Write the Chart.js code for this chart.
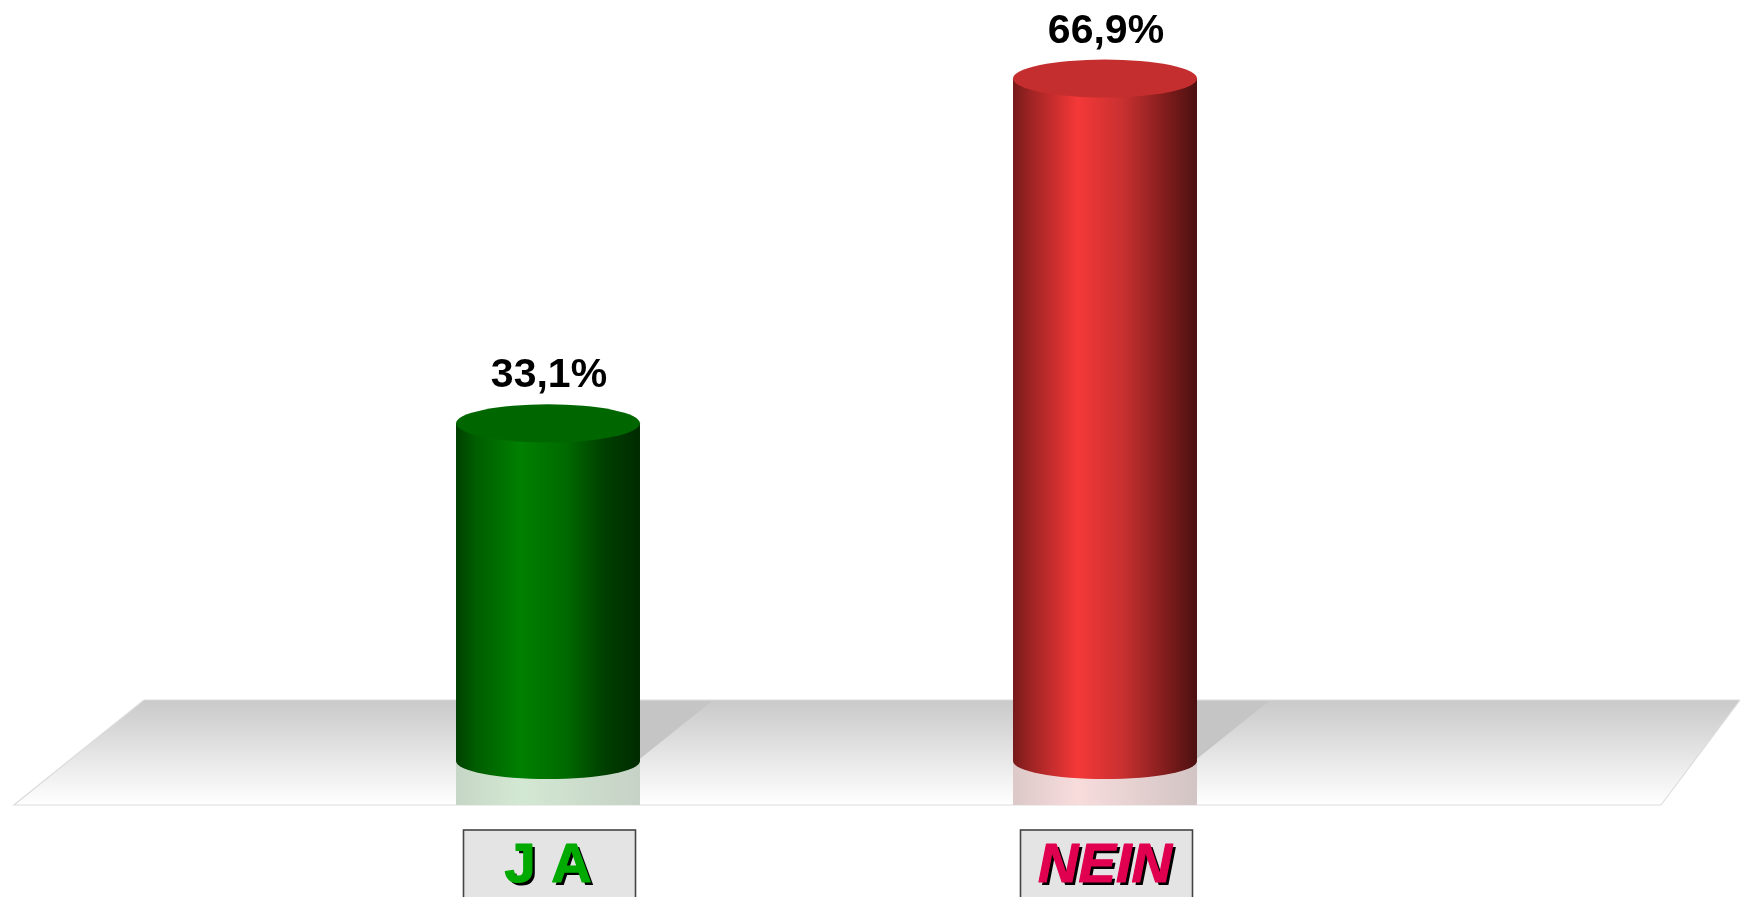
<!DOCTYPE html>
<html>
<head>
<meta charset="utf-8">
<style>html,body{margin:0;padding:0;background:#fff;overflow:hidden}canvas{display:block}</style>
<script src="https://cdn.jsdelivr.net/npm/chart.js@4"></script>
</head>
<body>
<canvas id="c" width="1740" height="897"></canvas>
<script>
const categories = ['J A', 'NEIN'];
const shares = [33.1, 66.9];

const sideStops = [
  [[0, '#003f00'], [0.1, '#005c00'], [0.35, '#008000'], [0.6, '#006a00'], [0.8, '#004000'], [1, '#002a00']],
  [[0, '#771a1a'], [0.1, '#a02424'], [0.35, '#f53838'], [0.6, '#c83030'], [0.8, '#8a1f1f'], [1, '#4c1010']]
];
const mirrorStops = [
  [[0, '#c6d6c6'], [0.35, '#d3e8d3'], [1, '#c6d2c6']],
  [[0, '#dcc8c8'], [0.35, '#f8dcdc'], [1, '#d2c4c4']]
];
const capColors = ['#006600', '#c42e2e'];
const labelColors = ['#00aa00', '#e0004f'];
const labelItalic = [false, true];

const FLOOR = {top: 700, bottom: 805, tl: 144, tr: 1740, bl: 14, br: 1661};

function hGrad(ctx, left, width, stops) {
  const g = ctx.createLinearGradient(left, 0, left + width, 0);
  stops.forEach(s => g.addColorStop(s[0], s[1]));
  return g;
}

const cylinders = {
  id: 'cylinders',
  beforeDatasetsDraw(chart) {
    const ctx = chart.ctx, f = FLOOR;
    ctx.save();
    const g = ctx.createLinearGradient(0, f.top, 0, f.bottom);
    g.addColorStop(0, '#c9c9c9');
    g.addColorStop(1, '#ffffff');
    ctx.beginPath();
    ctx.moveTo(f.tl, f.top); ctx.lineTo(f.tr, f.top); ctx.lineTo(f.br, f.bottom); ctx.lineTo(f.bl, f.bottom);
    ctx.closePath();
    ctx.fillStyle = g;
    ctx.fill();
    ctx.strokeStyle = '#dcdcdc';
    ctx.lineWidth = 1.2;
    ctx.stroke();
    const meta = chart.getDatasetMeta(0);
    meta.data.forEach((bar, i) => {
      const l = bar.x - bar.width / 2, r = bar.x + bar.width / 2;
      ctx.beginPath();
      ctx.moveTo(r - 4, bar.base + 1);
      ctx.lineTo(r + 72, f.top + 1);
      ctx.lineTo(r - 4, f.top + 1);
      ctx.closePath();
      ctx.fillStyle = '#c5c5c5';
      ctx.fill();
      ctx.fillStyle = hGrad(ctx, l, bar.width, mirrorStops[i]);
      ctx.fillRect(l, bar.base, bar.width, f.bottom - bar.base);
    });
    ctx.restore();
  },
  afterDatasetsDraw(chart) {
    const ctx = chart.ctx;
    const meta = chart.getDatasetMeta(0);
    ctx.save();
    meta.data.forEach((bar, i) => {
      const l = bar.x - bar.width / 2, rx = bar.width / 2;
      ctx.beginPath();
      ctx.ellipse(bar.x, bar.base, rx, 18, 0, 0, Math.PI);
      ctx.closePath();
      ctx.fillStyle = hGrad(ctx, l, bar.width, sideStops[i]);
      ctx.fill();
      ctx.beginPath();
      ctx.ellipse(bar.x, bar.y, rx, 19, 0, 0, Math.PI * 2);
      ctx.fillStyle = capColors[i];
      ctx.fill();

      ctx.font = 'bold 41px "Liberation Sans", Arial, sans-serif';
      ctx.textAlign = 'center';
      ctx.textBaseline = 'alphabetic';
      ctx.fillStyle = '#000000';
      ctx.fillText(shares[i].toFixed(1).replace('.', ',') + '%', bar.x + 1, bar.y - 36);

      const bx = bar.x - 84.5, bw = 172;
      ctx.fillStyle = '#e4e4e4';
      ctx.fillRect(bx, 830, bw, 80);
      ctx.strokeStyle = '#444444';
      ctx.lineWidth = 1.6;
      ctx.strokeRect(bx, 830, bw, 80);
      ctx.save();
      ctx.font = (labelItalic[i] ? 'italic ' : '') + 'bold 56px "Liberation Sans", Arial, sans-serif';
      ctx.shadowColor = '#000000';
      ctx.shadowOffsetX = 3;
      ctx.shadowOffsetY = 3;
      ctx.shadowBlur = 0;
      ctx.fillStyle = labelColors[i];
      ctx.fillText(categories[i], bar.x, 882);
      ctx.shadowColor = 'transparent';
      ctx.strokeStyle = labelColors[i];
      ctx.lineWidth = 1.2;
      ctx.lineJoin = 'round';
      ctx.strokeText(categories[i], bar.x, 882);
      ctx.restore();
    });
    ctx.restore();
  }
};

new Chart(document.getElementById('c'), {
  type: 'bar',
  data: {
    labels: categories,
    datasets: [{
      data: shares,
      borderWidth: 0,
      barPercentage: 0.3303,
      categoryPercentage: 1,
      backgroundColor(context) {
        const sc = context.chart.scales.x;
        if (!sc || context.dataIndex === undefined) return '#888888';
        const w = (sc.right - sc.left) / categories.length * 0.3303;
        const x = sc.getPixelForValue(context.dataIndex);
        if (!isFinite(x) || !isFinite(w)) return '#888888';
        return hGrad(context.chart.ctx, x - w / 2, w, sideStops[context.dataIndex]);
      }
    }]
  },
  options: {
    responsive: false,
    animation: false,
    layout: {padding: {left: 269.5, right: 356.5, top: 0, bottom: 136}},
    plugins: {legend: {display: false}, title: {display: false}, tooltip: {enabled: false}},
    scales: {
      x: {display: false},
      y: {display: false, min: 0, max: 74.6}
    }
  },
  plugins: [cylinders]
});
</script>
</body>
</html>
